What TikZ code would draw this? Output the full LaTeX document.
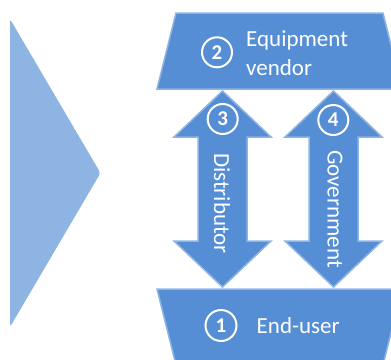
\documentclass[tikz,border=0pt]{standalone}
\usepackage{fontspec}
\setmainfont{Carlito}[BoldFont={Carlito Bold}]
\definecolor{boxfill}{HTML}{558ED5}
\definecolor{boxedge}{HTML}{8EB4E3}
\definecolor{trifill}{HTML}{8DB4E2}
\begin{document}
\begin{tikzpicture}[x=1pt,y=-1pt,
  shapebox/.style={fill=boxfill,draw=boxedge,line width=1.5pt,line join=miter},
  label/.style={text=white,font=\fontsize{23}{29}\selectfont,inner sep=0pt},
  numcircle/.style={circle,draw=white,line width=2pt,text=white,minimum size=30pt,inner sep=0pt,font=\fontsize{21}{21}\selectfont\bfseries}]
\useasboundingbox (0,0) rectangle (391,359);
% left triangle
\fill[trifill,rounded corners=3pt] (10,19) -- (100.5,173) -- (10,327) -- cycle;
% top trapezoid
\path[shapebox] (176,13) -- (383,13) -- (402,89) -- (157,89) -- cycle;
\coordinate (vendor) at (279.5,89);
% bottom trapezoid
\path[shapebox] (157,289) -- (402,289) -- (383,365) -- (176,365) -- cycle;
\coordinate (enduser) at (279.5,289);
% distributor arrow
\path[shapebox] (222.5,91) -- (271,137) -- (247,137) -- (247,241) -- (271,241) -- (222.5,287)
  -- (174,241) -- (198,241) -- (198,137) -- (174,137) -- cycle;
% government arrow
\path[shapebox] (333.5,91) -- (382,137) -- (358,137) -- (358,241) -- (382,241) -- (333.5,287)
  -- (285,241) -- (309,241) -- (309,137) -- (285,137) -- cycle;
% labels
\node[numcircle] (n2) at (217,52.3) {2};
\node[label,anchor=base west,align=left] (tvendor) at (246,75) {Equipment\\vendor};
\node[numcircle,minimum size=31pt] (n1) at (221,325.5) {1};
\node[label,anchor=base west] (tenduser) at (256.5,333.5) {End-user};
\node[numcircle] (n3) at (222.7,119) {3};
\node[numcircle] (n4) at (333.3,120) {4};
\node[label,rotate=-90] (tdist) at (222,203.5) {Distributor};
\node[label,rotate=-90] (tgov) at (335,209) {Government};
\end{tikzpicture}
\end{document}
